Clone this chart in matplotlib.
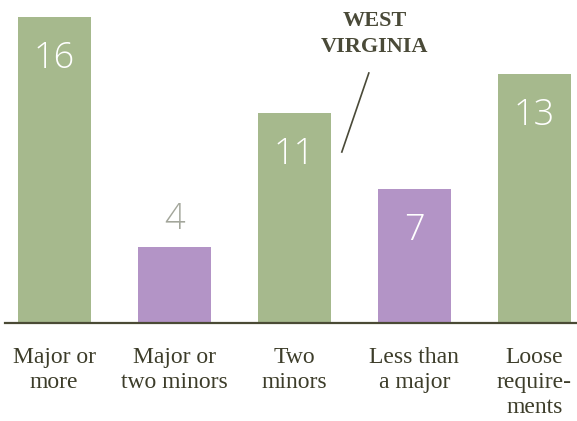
import matplotlib.pyplot as plt
import numpy as np

categorias = ["Major or\nmore", "Major or\ntwo minors", "Two\nminors", "Less than\na major", "Loose\nrequire-\nments"]
valores = [16, 4, 11, 7, 13]
colores = ["#a6b98d", "#b394c6", "#a6b98d", "#b394c6", "#a6b98d"]

fig = plt.figure(figsize=(5.77, 4.21), dpi=100)
ax = fig.add_axes([5 / 577, 1 - 323 / 421, 1 - 5 / 577, 323 / 421])

x = np.arange(len(valores))
ax.bar(x, valores, width=0.61, color=colores)
ax.set_xlim(-0.41, 4.355)
ax.set_ylim(0, 323 / 19.12)

# numeros dentro de las barras (el 4 va encima porque no cabe)
for i, v in enumerate(valores):
    if v < 5:
        ax.text(i, v + 0.45, str(v), ha='center', va='bottom', fontsize=26,
                color='#a3a69b', family='Open Sans', fontweight='light')
    else:
        ax.text(i, v - 1.2, str(v), ha='center', va='top', fontsize=26,
                color='white', family='Open Sans', fontweight='light')

for s in ['top', 'right', 'left']:
    ax.spines[s].set_visible(False)
ax.spines['bottom'].set_color('#4a4a35')
ax.spines['bottom'].set_linewidth(1.6)
ax.set_yticks([])
ax.set_xticks(x)
ax.set_xticklabels(categorias, family='Liberation Serif', fontsize=17,
                   color='#3d3d2a', linespacing=1.25)
ax.tick_params(axis='x', length=0, pad=17)

# anotacion de West Virginia
ax.text((375 - 54.5) / 120, (323 - 34) / 19.12, "WEST\nVIRGINIA", ha='center', va='center',
        fontsize=16, fontweight='bold', family='Liberation Serif', color='#4a4a38',
        linespacing=1.45)
ax.plot([(369 - 54.5) / 120, (342 - 54.5) / 120], [(323 - 73) / 19.12, (323 - 152) / 19.12],
        color='#4a4a38', lw=1.2, clip_on=False)

fig.savefig("out.png", dpi=100)
